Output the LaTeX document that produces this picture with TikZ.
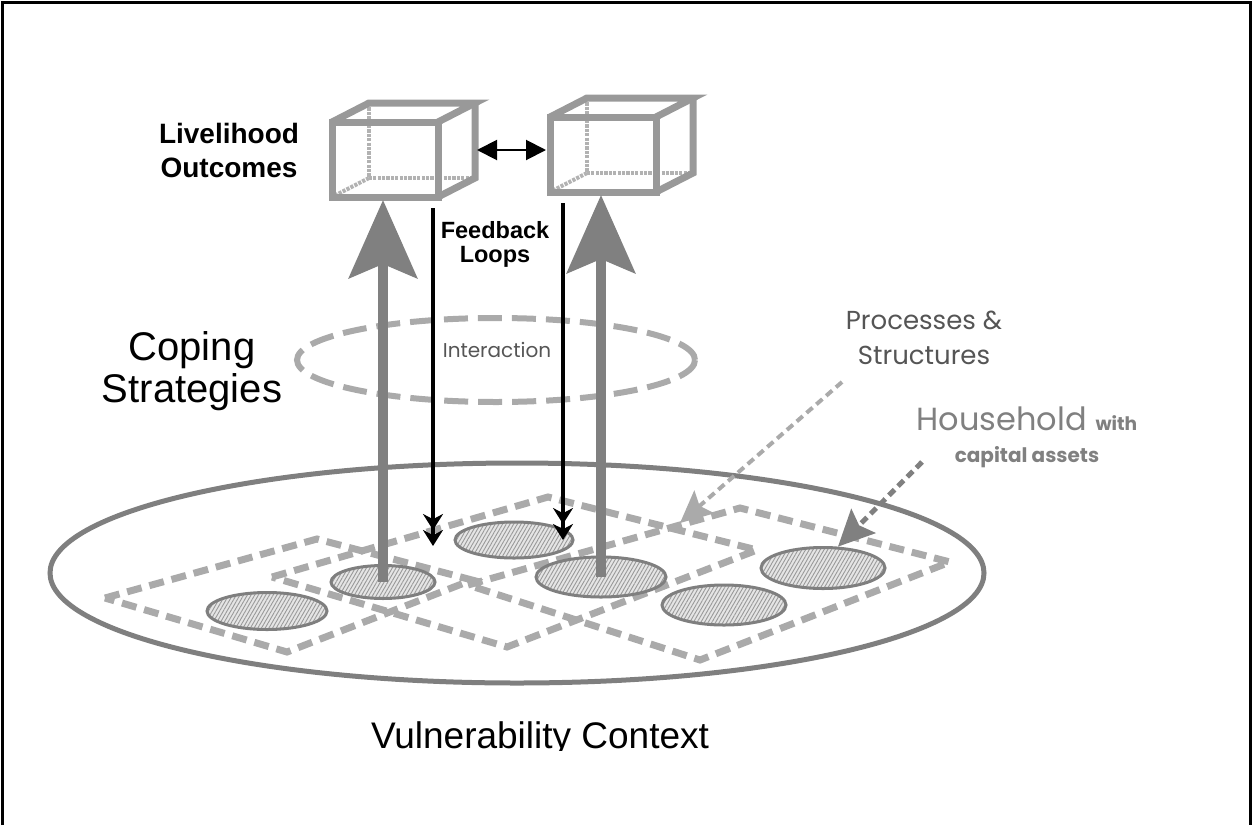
\documentclass[tikz,border=0pt]{standalone}
\usepackage{fontspec}
\setmainfont{Liberation Sans}
\newfontfamily\gothic{Poppins}
\usetikzlibrary{arrows.meta,patterns.meta,shapes.geometric}
\definecolor{boxgray}{HTML}{999999}
\definecolor{liftgray}{HTML}{808080}
\definecolor{dashgray}{HTML}{AAAAAA}
\definecolor{ringgray}{HTML}{7F7F7F}
\definecolor{inkgray}{HTML}{555555}
\tikzset{
outcomebox/.pic={
  \draw[hidden] (37,-19) -- (37,56) -- (143,56);
  \draw[hidden] (37,56) -- (0,75);
  \draw[boxedge] (0,0) -- (37,-19) -- (143,-19) -- (106,0);
  \draw[boxedge] (143,-19) -- (143,56) -- (106,75);
  \draw[boxedge] (0,0) rectangle (106,75);
  \coordinate (-base) at (51,78);
  \coordinate (-east) at (145,28);
  \coordinate (-west) at (-4,33);
  },
boxedge/.style={draw=boxgray, line width=3.5pt},
hidden/.style={draw=boxgray!75, line width=2pt, dash pattern=on 1.6pt off 0.6pt},
context/.style={ellipse, draw=ringgray, line width=2.5pt, minimum width=467pt, minimum height=110pt, inner sep=0pt},
layer/.style={draw=dashgray, line width=3.5pt, dash pattern=on 7.5pt off 4pt},
household/.style={ellipse, draw=ringgray, line width=1.5pt, inner sep=0pt, preaction={fill=gray!20}, pattern={Lines[angle=60,distance=1.6pt,line width=0.45pt]}, pattern color=gray!80},
interact/.style={ellipse, draw=dashgray, line width=3pt, dash pattern=on 12pt off 5pt, minimum width=199pt, minimum height=42pt, inner sep=0pt},
liftarrow/.style={draw=liftgray, line width=5pt, -{Stealth[length=39pt,width=34pt,inset=7pt,fill=liftgray]}},
feedback/.style={line width=2.4pt, -{Stealth[length=8pt,width=10pt]Stealth[length=8pt,width=10pt]}},
linkarrow/.style={line width=1pt, {Triangle[length=10pt,width=10pt]}-{Triangle[length=10pt,width=10pt]}},
pointer/.style={draw=dashgray, line width=2pt, dash pattern=on 4pt off 2.5pt, -{Stealth[length=16pt,width=15pt,inset=3pt,fill=dashgray]}},
hhpointer/.style={draw=liftgray, line width=2.5pt, dash pattern=on 4pt off 2.5pt, -{Stealth[length=18pt,width=17pt,inset=3pt,fill=liftgray]}},
gothiclabel/.style={font=\gothic, align=center, inner sep=0pt}
}

\begin{document}
\begin{tikzpicture}[x=0.5pt, y=-0.5pt]
\useasboundingbox (0,0) rectangle (1252,825);
\draw[line width=1.5pt] (2,825) -- (2,2) -- (1250,2) -- (1250,825);

\node[context] (vc) at (517,573) {};
\draw[layer] (105,598) -- (317,539) -- (472,580) -- (287,652) -- cycle;
\draw[layer] (272,577) -- (548,497) -- (757,550) -- (507,647) -- cycle;
\draw[layer] (468,585) -- (740,508) -- (950,562) -- (700,660) -- cycle;

\node[household, minimum width=60pt, minimum height=18.5pt] (hh1) at (267,611) {};
\node[household, minimum width=52pt, minimum height=16.5pt] (hh2) at (383,582) {};
\node[household, minimum width=59pt, minimum height=18pt] (hh3) at (514,540) {};
\node[household, minimum width=65pt, minimum height=20pt] (hh4) at (601,577) {};
\node[household, minimum width=62pt, minimum height=20pt] (hh5) at (724,605) {};
\node[household, minimum width=62pt, minimum height=20.5pt] (hh6) at (823,568) {};

\node[interact] (ia) at (496,360) {};
\node[gothiclabel, font=\gothic\fontsize{10}{12}\selectfont, text=inkgray] (iatext) at (497,350) {Interaction};

\pic (lo) at (332,122) {outcomebox};
\pic (lo2) at (550,117) {outcomebox};
\draw[linkarrow] (lo-east) -- (lo2-west);

\draw[liftarrow] (hh2.center) -- (lo-base);
\draw[liftarrow] (hh4.center) -- (lo2-base);

\coordinate (fb1) at (433,208);
\coordinate (fb1end) at (433,546);
\coordinate (fb2) at (563,203);
\draw[feedback] (fb1) -- (fb1end);
\draw[feedback] (fb2) -- (fb2 |- hh3.center);

\node[font=\bfseries\fontsize{14}{17}\selectfont, align=center, inner sep=0pt] (lotext) at (229,150) {Livelihood\\Outcomes};
\node[font=\bfseries\fontsize{11.75}{12}\selectfont, align=center, inner sep=0pt] (fbtext) at (495,244) {Feedback\\Loops};
\node[font=\fontsize{20}{21}\selectfont, align=center, inner sep=0pt] (cstext) at (192,371) {Coping\\Strategies};

\node[gothiclabel, font=\gothic\fontsize{13}{17.5}\selectfont, text=inkgray] (pstext) at (924,338) {Processes \&\\Structures};
\coordinate (psfoot) at (842,382);
\coordinate (pstip) at (680,523);
\draw[pointer] (psfoot) -- (pstip);

\node[gothiclabel, font=\gothic\fontsize{16}{16}\selectfont, text=liftgray] (hhtext) at (1027,437) {Household {\bfseries\fontsize{9.3}{16}\selectfont with}\\{\bfseries\fontsize{10}{16}\selectfont capital assets}};
\coordinate (hhfoot) at (922,462);
\draw[hhpointer] (hhfoot) -- (hh6.55);

\begin{scope}
\clip (0,0) rectangle (1252,750);
\node[font=\fontsize{18.5}{20}\selectfont, anchor=base, inner sep=0pt] (vctext) at (540,748) {Vulnerability Context};
\end{scope}

\end{tikzpicture}
\end{document}
